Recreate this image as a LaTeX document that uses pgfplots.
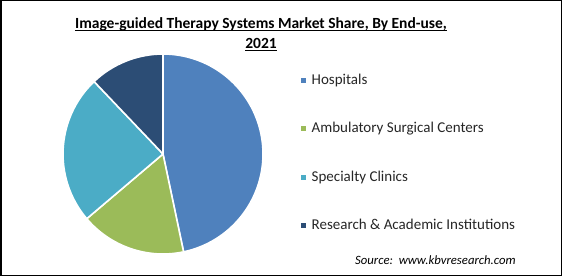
\documentclass[border=0pt]{standalone}
\usepackage{pgfplots}
\pgfplotsset{compat=1.18}
\usepackage{pgfplotstable}
\usepackage{fontspec}
\setmainfont{Carlito}
\definecolor{hosp}{HTML}{4F81BD}
\definecolor{amb}{HTML}{9BBB59}
\definecolor{spec}{HTML}{4BACC6}
\definecolor{res}{HTML}{2C4D75}

\pgfplotstableread[col sep=comma]{
label,value
Hospitals,46.7
Ambulatory Surgical Centers,17.1
Specialty Clinics,24.1
Research \& Academic Institutions,12.1
}\datatable

\begin{document}
\begin{tikzpicture}
\begin{axis}[x=1pt,y=1pt,xmin=0,xmax=562,ymin=0,ymax=276,
  hide axis, clip=false, anchor=origin, at={(0,0)}]
\pgfplotsextra{
  \draw[black,line width=1.5pt] (axis cs:0.75,0.75) rectangle (axis cs:561.25,275.25);
  \xdef\start{90}
  \foreach \i/\c/\ly in {0/hosp/195.5,1/amb/147.2,2/spec/98.8,3/res/50.2} {
    \pgfplotstablegetelem{\i}{value}\of\datatable
    \pgfmathsetmacro\endang{\start - 3.6*\pgfplotsretval}
    \fill[\c, draw=white, line width=1.6pt, line join=miter]
      (axis cs:163,122) -- ++(\start:100pt)
      arc[start angle=\start, end angle=\endang, radius=100pt] -- cycle;
    \xdef\start{\endang}
    \fill[\c] (axis cs:300.5,\ly-2.5) rectangle (axis cs:305.5,\ly+2.5);
    \pgfplotstablegetelem{\i}{label}\of\datatable
    \node[anchor=base west, inner sep=0pt, font=\fontsize{15}{18}\selectfont, text=black!85]
      at (axis cs:311.5,\ly-3.8) {\pgfplotsretval};
  }
  \node[anchor=base, inner sep=0pt, font=\fontsize{15.5}{18}\selectfont\bfseries] (t1)
    at (axis cs:261,247.5) {Image-guided Therapy Systems Market Share, By End-use,};
  \node[anchor=base, inner sep=0pt, font=\fontsize{15.5}{18}\selectfont\bfseries] (t2)
    at (axis cs:261,227.7) {2021};
  \draw[line width=1.2pt] ([yshift=-2.4pt]t1.base west) -- ([yshift=-2.4pt]t1.base east);
  \draw[line width=1.2pt] ([yshift=-2.4pt]t2.base west) -- ([yshift=-2.4pt]t2.base east);
  \node[anchor=base west, inner sep=0pt, font=\fontsize{12.7}{15}\selectfont\itshape]
    at (axis cs:355,12) {Source:\ \ www.kbvresearch.com};
}
\end{axis}
\end{tikzpicture}
\end{document}
